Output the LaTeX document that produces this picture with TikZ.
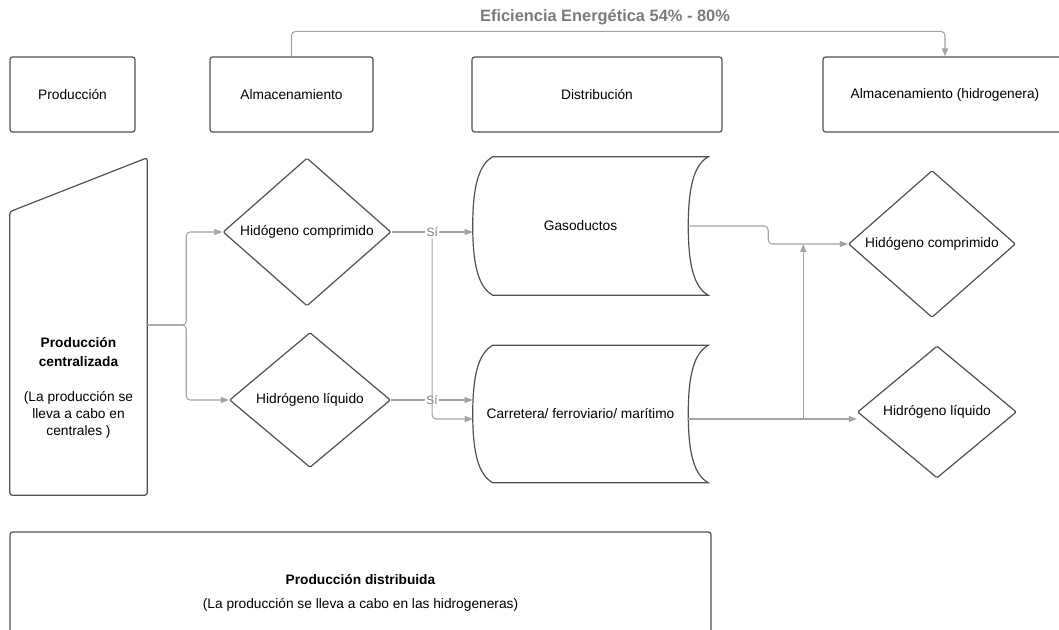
\documentclass[tikz,border=0pt]{standalone}
\usepackage{fontspec}
\setmainfont{Liberation Sans}
\usetikzlibrary{calc}
\usetikzlibrary{shapes.geometric}
\usetikzlibrary{arrows.meta}
\definecolor{edgegray}{HTML}{505050}
\definecolor{linkgray}{HTML}{A3A3A3}
\definecolor{titlegray}{HTML}{7A7A7A}
\tikzset{
    sz/.style 2 args={minimum width=#1*0.75pt, minimum height=#2*0.75pt},
    topbox/.style={draw=edgegray, line width=0.9pt, rounded corners=2pt, inner sep=0pt},
    decision/.style={diamond, draw=edgegray, line width=0.9pt, inner sep=0pt, rounded corners=1pt},
    shp/.style={draw=edgegray, line width=0.9pt},
    link/.style={draw=linkgray, line width=0.8pt, rounded corners=3pt, -{Triangle[length=6pt,width=4.5pt]}},
    sitag/.style={fill=white, text=titlegray, font=\fontsize{9}{10}\selectfont, inner sep=1pt}
}
\newcommand{\drumshape}[1]{%
\draw[shp] ($(#1.north east)+(20,0)$) -- ($(#1.north west)+(20,0)$) .. controls +(-14,8) and +(0,-40) .. (#1.west) .. controls +(0,40) and +(-14,-8) .. ($(#1.south west)+(20,0)$) -- ($(#1.south east)+(20,0)$) .. controls +(-14,-8) and +(0,40) .. (#1.east) .. controls +(0,-40) and +(-14,8) .. ($(#1.north east)+(20,0)$) -- cycle;}

\begin{document}
\begin{tikzpicture}[x=0.75pt, y=-0.75pt, font=\fontsize{10.3}{12.5}\selectfont]
\useasboundingbox (0,0) rectangle (1059,630);
% column headers
\foreach \x/\w/\p/\t in {72.5/125/prod/{Producción}, 291.5/163/alm/{Almacenamiento}, 597/250/dist/{Distribución}, 945/244/almh/{Almacenamiento (hidrogenera)}}{
\node[topbox, sz={\w}{75}] (\p) at (\x,94.5) {\t};
}
\node[font=\bfseries\fontsize{12.3}{14}\selectfont, text=titlegray] (eff) at (605,17) {Eficiencia Energética 54\% - 80\%};
\draw[link] (alm.north) -- ++(0,-25) -| (almh.north);
% centralised production
\node[sz={137}{337}] (prodc) at (78.5,326.5) {};
\draw[shp, rounded corners=2pt] (prodc.south west) -- ($(prodc.north west)+(0,54)$) -- (prodc.north east) -- (prodc.south east) -- cycle;
\node[align=center] (prodctxt) at (78.5,388) {\textbf{Producción}\\[1.5pt]\textbf{centralizada}\\[14pt](La producción se\\lleva a cabo en\\centrales )};
% storage
\node[decision, sz={168}{148}] (dc1) at (307,232) {Hidógeno comprimido};
\node[decision, sz={161}{135}] (dl1) at (310,400) {Hidrógeno líquido};
\node[decision, sz={167}{147}] (dc2) at (932,244) {Hidógeno comprimido};
\node[decision, sz={159}{132}] (dl2) at (937,412) {Hidrógeno líquido};
% distribution
\node[sz={215}{138}] (gas) at (580.5,226) {Gasoductos};
\node[sz={215}{137}] (road) at (580.5,414) {Carretera/ ferroviario/ marítimo};
\drumshape{gas}
\drumshape{road}
% distributed production
\node[topbox, sz={701}{122}, align=center] (pdist) at (360.5,593) {\textbf{Producción distribuida}\\[6pt](La producción se lleva a cabo en las hidrogeneras)};
% links
\coordinate (pcout) at ($(prodc.east)+(0,-1.5)$);
\coordinate (split) at ($(pcout)+(39,0)$);
\draw[link] (pcout) -- (split) |- (dc1.west);
\draw[link] (pcout) -- (split) |- (dl1.west);
\draw[link] (dc1.east) -- (dc1.east -| gas.west) node[sitag, pos=0.5] (si1) {Sí};
\draw[link] (dl1.east) -- (dl1.east -| road.west) node[sitag, pos=0.5] (si2) {Sí};
\draw[link] (si1.south) |- ($(road.west)+(0,5)$);
\draw[link] (gas.east) -- ++(80,0) |- (dc2.west);
\coordinate (roadout) at ($(road.east)+(0,5)$);
\draw[link] (roadout) -- (roadout -| dl2.west);
\coordinate (join) at ($(roadout)+(115,0)$);
\draw[link] (join) -- (join |- dc2.west);
\end{tikzpicture}
\end{document}
